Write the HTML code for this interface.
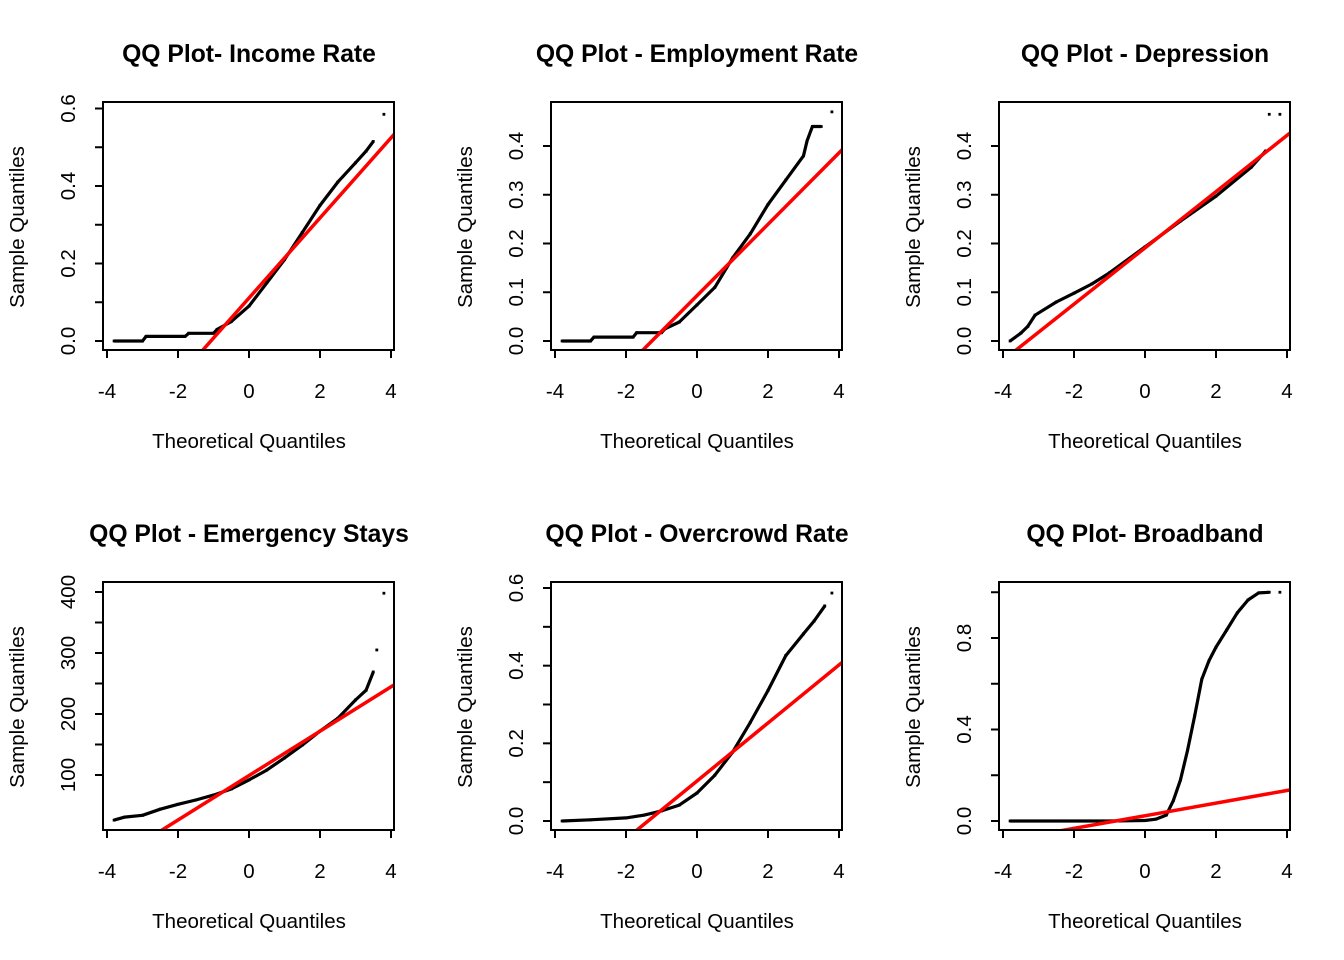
<!DOCTYPE html>
<html><head><meta charset="utf-8"><style>
html,body{margin:0;padding:0;background:#fff;}
svg{display:block;font-family:"Liberation Sans",Arial,sans-serif;}
</style></head><body>
<svg id="c" width="1344" height="960" viewBox="0 0 1344 960"></svg>
<script>
// Panel data (theoretical quantiles, sample quantiles), reference lines
const titles = ["QQ Plot- Income Rate","QQ Plot - Employment Rate","QQ Plot - Depression","QQ Plot - Emergency Stays","QQ Plot - Overcrowd Rate","QQ Plot- Broadband"];
const tq1 = [-3.8,-3.5,-3.2,-3.0,-2.9,-1.8,-1.7,-1.0,-0.9,-0.5,0,0.5,1,1.5,2,2.5,3,3.3,3.5];
const sq1 = [0,0,0,0,0.012,0.012,0.02,0.02,0.03,0.05,0.09,0.15,0.21,0.28,0.35,0.41,0.46,0.49,0.515];
const tx1 = [3.8]; const ty1 = [0.585];
const tq2 = [-3.8,-3.5,-3.2,-3.0,-2.9,-1.8,-1.7,-1.0,-0.9,-0.5,0,0.5,1,1.5,2,2.5,3,3.1,3.25,3.5];
const sq2 = [0,0,0,0,0.008,0.008,0.017,0.017,0.025,0.039,0.074,0.11,0.17,0.22,0.28,0.33,0.38,0.41,0.44,0.44];
const tx2 = [3.8]; const ty2 = [0.47];
const tq3 = [-3.8,-3.5,-3.3,-3.1,-2.5,-2,-1.5,-1,0,1,2,3,3.4];
const sq3 = [0,0.016,0.03,0.053,0.08,0.098,0.117,0.14,0.193,0.246,0.297,0.357,0.39];
const tx3 = [3.5,3.8]; const ty3 = [0.465,0.465];
const tq4 = [-3.8,-3.5,-3,-2.5,-2,-1.5,-1,-0.5,0,0.5,1,1.5,2,2.5,3,3.3,3.5];
const sq4 = [26,31,34,44,52,59,67,77,92,108,128,149,172,193,223,239,269];
const tx4 = [3.6,3.8]; const ty4 = [305,398];
const tq5 = [-3.8,-3,-2,-1.5,-1,-0.5,0,0.5,1,1.5,2,2.5,3,3.3,3.6];
const sq5 = [0,0.003,0.008,0.015,0.026,0.041,0.072,0.118,0.177,0.254,0.336,0.426,0.482,0.515,0.554];
const tx5 = [3.8]; const ty5 = [0.587];
const tq6 = [-3.8,-3,-2,-1,0,0.3,0.6,0.8,1,1.2,1.4,1.6,1.8,2,2.3,2.6,2.9,3.2,3.5];
const sq6 = [0,0,0,0,0.002,0.008,0.026,0.09,0.18,0.31,0.46,0.62,0.70,0.76,0.835,0.91,0.966,0.997,1.0];
const tx6 = [3.8]; const ty6 = [1.0];
const intercepts = [0.111,0.093,0.191,99,0.103,0.023];
const slopes = [0.1033,0.0732,0.0577,36.4,0.0747,0.0276];
const yTicks = [[0,0.1,0.2,0.3,0.4,0.5,0.6],[0,0.1,0.2,0.3,0.4],[0,0.1,0.2,0.3,0.4],[100,150,200,250,300,350,400],[0,0.1,0.2,0.3,0.4,0.5,0.6],[0,0.2,0.4,0.6,0.8,1.0]];
const yLabels = [["0.0","0.2","0.4","0.6"],["0.0","0.1","0.2","0.3","0.4"],["0.0","0.1","0.2","0.3","0.4"],["100","200","300","400"],["0.0","0.2","0.4","0.6"],["0.0","0.4","0.8"]];
const xTicks = [-4,-2,0,2,4];

const series = [[tq1,sq1,tx1,ty1],[tq2,sq2,tx2,ty2],[tq3,sq3,tx3,ty3],[tq4,sq4,tx4,ty4],[tq5,sq5,tx5,ty5],[tq6,sq6,tx6,ty6]];
const yMaps = [[0,341,0.6,108.5],[0,341,0.4,146],[0,341,0.4,146],[100,775,400,592],[0,821,0.6,588],[0,821,0.8,638]];

const svg = document.getElementById('c');
const NS = 'http://www.w3.org/2000/svg';
function mk(tag, attrs, parent){const e=document.createElementNS(NS,tag);for(const k in attrs)e.setAttribute(k,attrs[k]);(parent||svg).appendChild(e);return e;}

for(let p=0;p<6;p++){
  const col=p%3,row=Math.floor(p/3);
  const dx=col*448, dy=row*480;
  const L=103+dx,R=394+dx,T=102+dy,B=350+dy;
  const g=mk('g',{});
  
  
  const xs=t=>249+dx+35.5*t;
  const ym=yMaps[p];
  const ys=v=>ym[1]+(v-ym[0])*(ym[3]-ym[1])/(ym[2]-ym[0]);
  const t=mk('text',{x:249+dx,y:62+dy,'text-anchor':'middle','font-size':'24.7','font-weight':'bold'},g);
  t.textContent=titles[p];
  
  
  const cp=mk('clipPath',{id:'cp'+p},g);mk('rect',{x:L,y:T,width:R-L,height:B-T},cp);
  const s=series[p];
  const pg=mk('g',{'clip-path':'url(#cp'+p+')'},g);
  
  
  let d='';
  for(let i=0;i<s[0].length;i++){d+=(i?'L':'M')+xs(s[0][i]).toFixed(1)+' '+ys(s[1][i]).toFixed(1);}
  mk('path',{d:d,fill:'none',stroke:'#000','stroke-width':'3.2','stroke-linejoin':'round'},pg);
  for(let i=0;i<s[0].length;i++){mk('rect',{x:xs(s[0][i])-1.4,y:ys(s[1][i])-1.4,width:2.8,height:2.8,fill:'#000'},pg);}
  for(let i=0;i<s[2].length;i++){mk('rect',{x:xs(s[2][i])-1.4,y:ys(s[3][i])-1.4,width:2.8,height:2.8,fill:'#000'},pg);}
  const t0=-6,t1=6;
  const ln=mk('line',{x1:xs(t0),y1:ys(intercepts[p]+slopes[p]*t0),x2:xs(t1),y2:ys(intercepts[p]+slopes[p]*t1),stroke:'#ff0000','stroke-width':'3.5','clip-path':'url(#cp'+p+')'},g);
  
  
  const bx=mk('rect',{x:L,y:T,width:R-L,height:B-T,fill:'none',stroke:'#000','stroke-width':'2'},g);
  
  
  for(const v of xTicks){
    mk('line',{x1:xs(v),y1:B,x2:xs(v),y2:B+8,stroke:'#000','stroke-width':'2'},g);
    const tl=mk('text',{x:xs(v),y:B+48,'text-anchor':'middle','font-size':'20.5'},g);
    tl.textContent=String(v);
    
    
  }
  const yt=yTicks[p];
  for(const v of yt){mk('line',{x1:L-8,y1:ys(v),x2:L,y2:ys(v),stroke:'#000','stroke-width':'2'},g);}
  for(const lab of yLabels[p]){
    const v=parseFloat(lab),yy=ys(v);
    const tl=mk('text',{x:75+dx,y:yy,'text-anchor':'middle','font-size':'20.5',transform:'rotate(-90 '+(75+dx)+' '+yy+')'},g);
    tl.textContent=lab;
    
    
  }
  const xt=mk('text',{x:249+dx,y:448+dy,'text-anchor':'middle','font-size':'20.5'},g);
  xt.textContent='Theoretical Quantiles';
  
  
  const cy=227+dy;
  const yt2=mk('text',{x:24+dx,y:cy,'text-anchor':'middle','font-size':'20.5',transform:'rotate(-90 '+(24+dx)+' '+cy+')'},g);
  yt2.textContent='Sample Quantiles';
  
  
}
</script>
</body></html>
